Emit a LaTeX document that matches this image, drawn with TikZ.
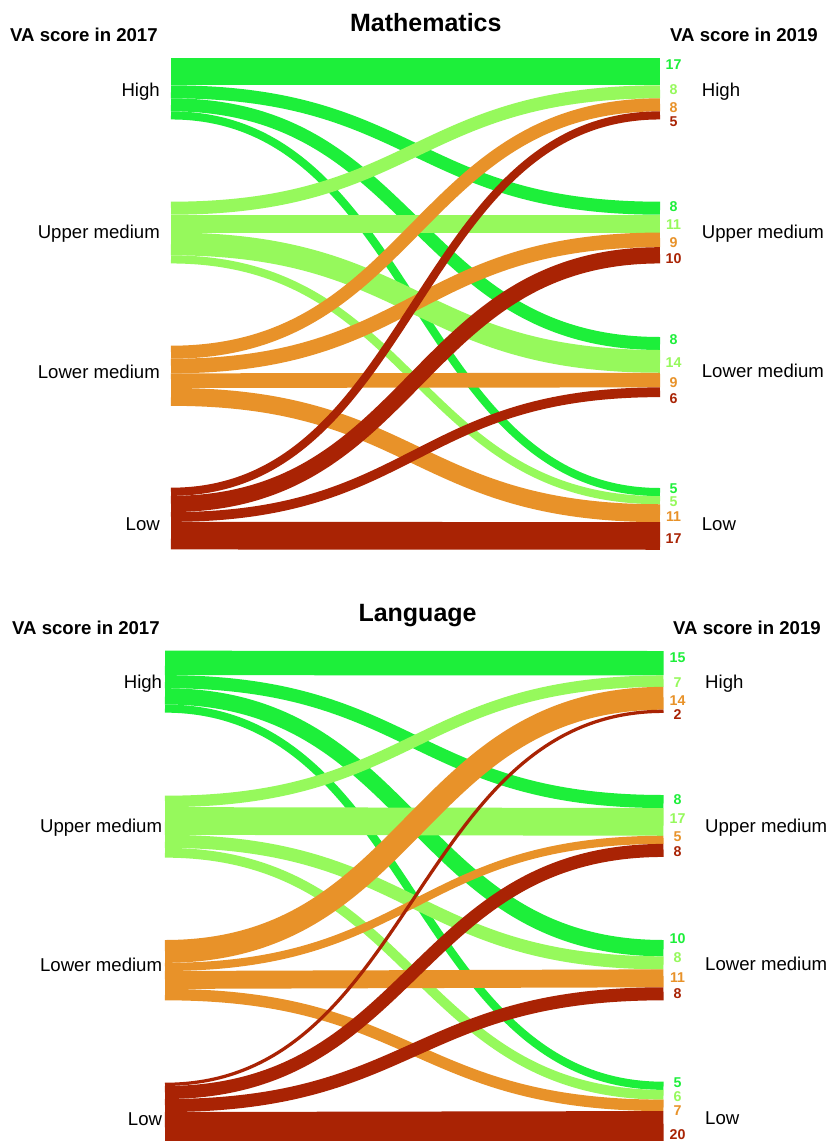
\documentclass[tikz,border=0pt]{standalone}
\usepackage{fontspec}
\setmainfont{Liberation Sans}
\definecolor{cG}{HTML}{1DEF3A}
\definecolor{cL}{HTML}{96F95C}
\definecolor{cO}{HTML}{E89229}
\definecolor{cR}{HTML}{A92304}
% generic sankey flow: color, x0, x1, k, ysrc, osrc, ytgt, otgt, n
\newcommand\skflow[9]{%
  \pgfmathsetmacro\skya{#5+#4*(#6+#9/2)}%
  \pgfmathsetmacro\skyb{#7+#4*(#8+#9/2)}%
  \pgfmathsetmacro\skw{#4*#9}%
  \pgfmathsetmacro\skxm{(#2+#3)/2}%
  \draw[#1, line width=\skw pt] (#2,\skya) .. controls (\skxm,\skya) and (\skxm,\skyb) .. (#3,\skyb);%
}
\newcommand\mf[6]{\skflow{#1}{171}{660}{1.625}{#2}{#3}{#4}{#5}{#6}}
\newcommand\lf[6]{\skflow{#1}{165}{663.5}{1.63}{#2}{#3}{#4}{#5}{#6}}
\begin{document}
\begin{tikzpicture}[x=1pt,y=-1pt,
  lab/.style={font=\fontsize{18.6}{20}\selectfont, inner sep=0pt},
  hdr/.style={font=\bfseries\fontsize{18.6}{20}\selectfont, inner sep=0pt},
  ttl/.style={font=\bfseries\fontsize{25}{28}\selectfont, inner sep=0pt},
  num/.style={font=\bfseries\fontsize{14.2}{15}\selectfont, inner sep=0pt}]
\useasboundingbox (0,0) rectangle (828,1141);
\fill[white] (0,0) rectangle (828,1141);

% ---------------- Mathematics flows ----------------
\mf{cG}{57.7}{0}{57.7}{0}{17}
\mf{cG}{57.7}{17}{201.7}{0}{8}
\mf{cG}{57.7}{25}{337}{0}{8}
\mf{cG}{57.7}{33}{488}{0}{5}
\mf{cL}{201.7}{0}{57.7}{17}{8}
\mf{cL}{201.7}{8}{201.7}{8}{11}
\mf{cL}{201.7}{19}{337}{8}{14}
\mf{cL}{201.7}{33}{488}{5}{5}
\mf{cO}{345.7}{0}{57.7}{25}{8}
\mf{cO}{345.7}{8}{201.7}{19}{9}
\mf{cO}{345.7}{17}{337}{22}{9}
\mf{cO}{345.7}{26}{488}{10}{11}
\mf{cR}{487.7}{0}{57.7}{33}{5}
\mf{cR}{487.7}{5}{201.7}{28}{10}
\mf{cR}{487.7}{15}{337}{31}{6}
\mf{cR}{487.7}{21}{488}{21}{17}

% ---------------- Language flows ----------------
\lf{cG}{650.7}{0}{651}{0}{15}
\lf{cG}{650.7}{15}{795}{0}{8}
\lf{cG}{650.7}{23}{940}{0}{10}
\lf{cG}{650.7}{33}{1081.7}{0}{5}
\lf{cL}{795.7}{0}{651}{15}{7}
\lf{cL}{795.7}{7}{795}{8}{17}
\lf{cL}{795.7}{24}{940}{10}{8}
\lf{cL}{795.7}{32}{1081.7}{5}{6}
\lf{cO}{940}{0}{651}{22}{14}
\lf{cO}{940}{14}{795}{25}{5}
\lf{cO}{940}{19}{940}{18}{11}
\lf{cO}{940}{30}{1081.7}{11}{7}
\lf{cR}{1082.7}{0}{651}{36}{2}
\lf{cR}{1082.7}{2}{795}{30}{8}
\lf{cR}{1082.7}{10}{940}{29}{8}
\lf{cR}{1082.7}{18}{1081.7}{18}{20}

% ---------------- Mathematics texts ----------------
\node[ttl, anchor=base] (mtitle) at (425.8,31.7) {Mathematics};
\node[hdr, anchor=base west] (mh17) at (10,41.5) {VA score in 2017};
\node[hdr, anchor=base west] (mh19) at (670,41.5) {VA score in 2019};
\node[lab, anchor=base east] (mlH) at (160,96) {High};
\node[lab, anchor=base east] (mlU) at (160,238.5) {Upper medium};
\node[lab, anchor=base east] (mlL) at (160,378) {Lower medium};
\node[lab, anchor=base east] (mlW) at (160,530.5) {Low};
\node[lab, anchor=base west] (mrH) at (701.7,96.5) {High};
\node[lab, anchor=base west] (mrU) at (701.7,238.5) {Upper medium};
\node[lab, anchor=base west] (mrL) at (701.7,377) {Lower medium};
\node[lab, anchor=base west] (mrW) at (701.7,530) {Low};

\node[num, text=cG] (mn1) at (673.5,65) {17};
\node[num, text=cL] (mn2) at (673.5,90) {8};
\node[num, text=cO] (mn3) at (673.5,108) {8};
\node[num, text=cR] (mn4) at (673.5,122) {5};
\node[num, text=cG] (mn5) at (673.5,207) {8};
\node[num, text=cL] (mn6) at (673.5,225) {11};
\node[num, text=cO] (mn7) at (673.5,243) {9};
\node[num, text=cR] (mn8) at (673.5,259) {10};
\node[num, text=cG] (mn9) at (673.5,340) {8};
\node[num, text=cL] (mn10) at (673.5,362.7) {14};
\node[num, text=cO] (mn11) at (673.5,383) {9};
\node[num, text=cR] (mn12) at (673.5,399) {6};
\node[num, text=cG] (mn13) at (673.5,489) {5};
\node[num, text=cL] (mn14) at (673.5,502) {5};
\node[num, text=cO] (mn15) at (673.5,516.7) {11};
\node[num, text=cR] (mn16) at (673.5,539) {17};

% ---------------- Language texts ----------------
\node[ttl, anchor=base west] (ltitle) at (358.3,621) {Language};
\node[hdr, anchor=base west] (lh17) at (12,634) {VA score in 2017};
\node[hdr, anchor=base west] (lh19) at (673,634) {VA score in 2019};
\node[lab, anchor=base east] (llH) at (162.3,688.2) {High};
\node[lab, anchor=base east] (llU) at (162.3,832.2) {Upper medium};
\node[lab, anchor=base east] (llL) at (162.3,971.5) {Lower medium};
\node[lab, anchor=base east] (llW) at (162.3,1125) {Low};
\node[lab, anchor=base west] (lrH) at (705,688.2) {High};
\node[lab, anchor=base west] (lrU) at (705,832.2) {Upper medium};
\node[lab, anchor=base west] (lrL) at (705,970.5) {Lower medium};
\node[lab, anchor=base west] (lrW) at (705,1124.2) {Low};

\node[num, text=cG] (ln1) at (677.5,657.7) {15};
\node[num, text=cL] (ln2) at (677.5,683) {7};
\node[num, text=cO] (ln3) at (677.5,701) {14};
\node[num, text=cR] (ln4) at (677.5,715) {2};
\node[num, text=cG] (ln5) at (677.5,800) {8};
\node[num, text=cL] (ln6) at (677.5,819) {17};
\node[num, text=cO] (ln7) at (677.5,836.7) {5};
\node[num, text=cR] (ln8) at (677.5,852) {8};
\node[num, text=cG] (ln9) at (677.5,939) {10};
\node[num, text=cL] (ln10) at (677.5,957.3) {8};
\node[num, text=cO] (ln11) at (677.5,977.3) {11};
\node[num, text=cR] (ln12) at (677.5,993.3) {8};
\node[num, text=cG] (ln13) at (677.5,1082.7) {5};
\node[num, text=cL] (ln14) at (677.5,1096.7) {6};
\node[num, text=cO] (ln15) at (677.5,1111) {7};
\node[num, text=cR] (ln16) at (677.5,1135) {20};
\end{tikzpicture}
\end{document}
